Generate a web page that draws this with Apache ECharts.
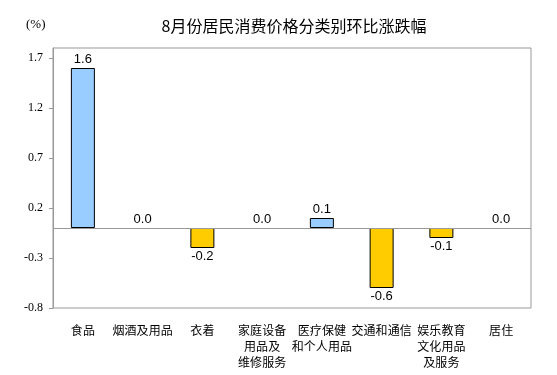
<!DOCTYPE html>
<html><head><meta charset="utf-8">
<script src="https://cdn.jsdelivr.net/npm/echarts@6/dist/echarts.min.js"></script>
<style>html,body{margin:0;padding:0;background:#fff}#c{width:557px;height:375px}</style>
</head><body><div id="c"></div>
<script>
var categories = ['食品','烟酒及用品','衣着','家庭设备\n用品及\n维修服务','医疗保健\n和个人用品','交通和通信','娱乐教育\n文化用品\n及服务','居住'];
var values = [1.6, 0.0, -0.2, 0.0, 0.1, -0.6, -0.1, 0.0];
var yTicks = [-0.8, -0.3, 0.2, 0.7, 1.2, 1.7];
var titleText = '8月份居民消费价格分类别环比涨跌幅';
var unitText = '(%)';

var chart = echarts.init(document.getElementById('c'));
var data = values.map(function(v){
  return {
    value: v,
    itemStyle: {color: v < 0 ? '#FFCC00' : '#99CCFF', borderColor: '#000', borderWidth: v === 0 ? 0 : 1, opacity: v === 0 ? 0 : 1},
    label: {position: v < 0 ? 'bottom' : 'top'}
  };
});
chart.setOption({
  animation: false,
  title: {text: titleText, left: 289, top: 13, textAlign: 'center',
    textStyle: {fontSize: 16, fontWeight: 'normal', color: '#000', fontFamily: 'Noto Sans CJK SC'}},
  graphic: [{type: 'text', left: 26, top: 18, style: {text: unitText, fontSize: 13, fill: '#000', fontFamily: 'Liberation Serif'}}],
  grid: {left: 53, right: 26, top: 48, bottom: 67, show: true, borderColor: '#999', borderWidth: 1, backgroundColor: 'transparent'},
  xAxis: {
    type: 'category', data: categories, position: 'bottom',
    axisLine: {show: false, onZero: false}, axisTick: {show: false},
    axisLabel: {interval: 0, margin: 14, fontSize: 12, lineHeight: 16, color: '#000', fontFamily: 'Noto Sans CJK SC', verticalAlign: 'top'}
  },
  yAxis: {
    type: 'value', min: -0.8, max: 1.8, interval: 0.5,
    axisLine: {show: true, lineStyle: {color: '#999'}},
    axisTick: {show: true, length: 4, inside: false, lineStyle: {color: '#999'}},
    splitLine: {show: false},
    axisLabel: {showMaxLabel: false, fontSize: 12, color: '#000', fontFamily: 'Liberation Serif', margin: 10,
      formatter: function(v){ return yTicks.some(function(t){return Math.abs(t-v)<1e-6;}) ? v.toFixed(1) : ''; }}
  },
  series: [{
    type: 'bar', data: data, barWidth: 24,
    label: {show: true, fontSize: 13, color: '#000', fontFamily: 'Liberation Sans', distance: 2, opacity: 1,
      formatter: function(p){ return p.value.toFixed(1); }},
    markLine: {silent: true, symbol: 'none', label: {show: false},
      lineStyle: {color: '#999', type: 'solid', width: 1}, data: [{yAxis: 0}]}
  }]
});
</script></body></html>
